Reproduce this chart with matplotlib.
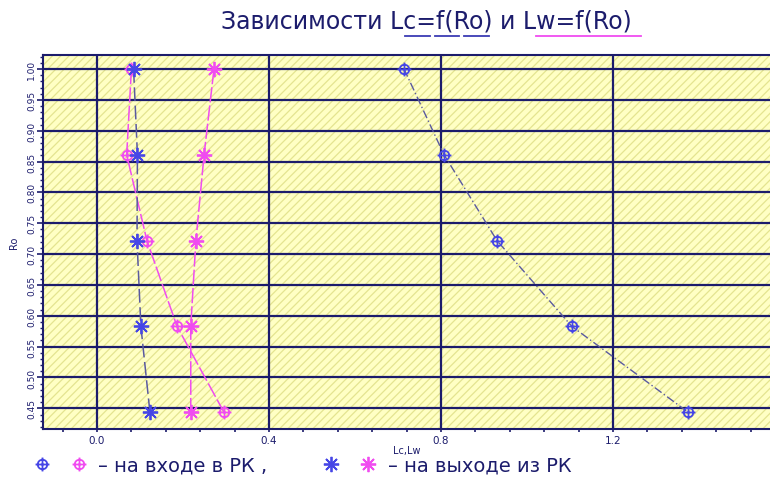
import numpy as np
import matplotlib
matplotlib.use('Agg')
import matplotlib.pyplot as plt
from matplotlib.path import Path
from matplotlib.lines import Line2D
from matplotlib.patches import Rectangle
from matplotlib.legend_handler import HandlerTuple

# data
Ro = [1.0, 0.861, 0.722, 0.583, 0.444]
Lc_in = [0.714, 0.807, 0.930, 1.104, 1.374]     # blue circle-plus
Lw_in = [0.080, 0.069, 0.116, 0.186, 0.295]     # pink circle-plus
Lc_out = [0.085, 0.094, 0.093, 0.102, 0.123]    # blue star
Lw_out = [0.272, 0.249, 0.230, 0.218, 0.218]    # pink star

y_ticks = [0.45, 0.50, 0.55, 0.60, 0.65, 0.70, 0.75, 0.80, 0.85, 0.90, 0.95, 1.00]
x_ticks = [0.0, 0.4, 0.8, 1.2]

title = 'Зависимости Lc=f(Ro) и Lw=f(Ro)'

navy = '#1c1c6c'
blue = '#4646e6'
pink = '#f04cf0'
blue_line = '#5a5aa0'

# circle with a cross sticking out
circ = Path.unit_circle()
cross = Path([[-1.45, 0], [1.45, 0], [0, -1.45], [0, 1.45]],
             [Path.MOVETO, Path.LINETO, Path.MOVETO, Path.LINETO])
oplus = Path.make_compound_path(circ, cross)
star = (8, 2, 0)

plt.rcParams['hatch.linewidth'] = 0.9

fig = plt.figure(figsize=(7.7, 4.81), dpi=100)
ax = fig.add_axes([43/770, 1-430/481, 1-43/770, (430-55.7)/481])

ax.set_facecolor('#ffffc4')
ax.add_patch(Rectangle((0, 0), 1, 1, transform=ax.transAxes, facecolor='none',
                       edgecolor='#e4e490', hatch='////', lw=0, zorder=0))

for y in y_ticks:
    ax.axhline(y, color=navy, lw=1.6, zorder=1)
for x in x_ticks:
    ax.axvline(x, color=navy, lw=1.6, zorder=1)

ax.plot(Lc_in, Ro, color=blue_line, lw=1.0, ls=(0, (6, 2, 1, 2)), zorder=2)
ax.plot(Lw_in, Ro, color=pink, lw=1.1, ls=(0, (10, 2)), zorder=2)
ax.plot(Lc_out, Ro, color=blue_line, lw=1.1, ls=(0, (9, 3)), zorder=2)
ax.plot(Lw_out, Ro, color=pink, lw=1.1, ls=(0, (10, 2)), zorder=2)

ax.plot(Lc_in, Ro, ls='none', marker=oplus, ms=10, mfc='none', mec=blue, mew=1.3, zorder=3)
ax.plot(Lw_in, Ro, ls='none', marker=oplus, ms=10, mfc='none', mec=pink, mew=1.3, zorder=3)
ax.plot(Lc_out, Ro, ls='none', marker=star, ms=11, mec=blue, mew=1.3, zorder=3)
ax.plot(Lw_out, Ro, ls='none', marker=star, ms=11, mec=pink, mew=1.3, zorder=3)

ax.set_xlim(-0.1256, 1.565)
ax.set_ylim(0.4165, 1.0232)

ax.set_yticks(y_ticks)
ax.set_yticklabels(['%.2f' % v for v in y_ticks], rotation=90, va='center',
                   fontsize=6.5, color=navy)
ax.set_yticks(np.arange(0.42, 1.025, 0.01), minor=True)
ax.set_xticks(x_ticks)
ax.set_xticklabels(['%.1f' % v for v in x_ticks], fontsize=7.5, color=navy)
ax.set_xticks(np.arange(-0.08, 1.56, 0.08), minor=True)
ax.tick_params(axis='y', which='major', direction='out', length=4, width=1.2, color=navy, pad=1)
ax.tick_params(axis='y', which='minor', direction='out', length=2.5, width=1.0, color=navy)
ax.tick_params(axis='x', which='both', direction='out', length=2, width=1.2, color=navy, pad=2)

for s in ['left', 'bottom', 'top']:
    ax.spines[s].set_color(navy)
    ax.spines[s].set_linewidth(1.5)
ax.spines['right'].set_visible(False)

ax.set_xlabel('Lc,Lw', fontsize=7, color=navy, labelpad=0)
ax.set_ylabel('Ro', fontsize=7, color=navy, labelpad=6)

tx, ty = 426/770, 1-22/481
fig.text(tx, ty, title, ha='center', va='center', fontsize=17, color=navy)

# underlines under the title, measured from the title text
fig.canvas.draw()
rend = fig.canvas.get_renderer()
def width_px(s):
    t = fig.text(0, 0, s, fontsize=17)
    w = t.get_window_extent(rend).width
    t.remove()
    return w
full = width_px(title)
left = tx*770 - full/2
c0 = left + width_px('Зависимости L')
c1 = left + width_px('Зависимости Lc=f(Ro)')
w0 = left + width_px('Зависимости Lc=f(Ro) и L')
w1 = left + full
uy = 1-37/481
seg = (c1 - c0) / 3
for i in range(3):
    fig.add_artist(Line2D([(c0 + i*seg + 2)/770, (c0 + (i+1)*seg - 3)/770], [uy, uy],
                          color='#3c3cb4', lw=1.3))
fig.add_artist(Line2D([w0/770, (w1 + 10)/770], [uy, uy], color=pink, lw=1.3))

h_in = (Line2D([], [], ls='none', marker=oplus, ms=10, mfc='none', mec=blue, mew=1.3),
        Line2D([], [], ls='none', marker=oplus, ms=10, mfc='none', mec=pink, mew=1.3))
h_out = (Line2D([], [], ls='none', marker=star, ms=11, mec=blue, mew=1.3),
         Line2D([], [], ls='none', marker=star, ms=11, mec=pink, mew=1.3))
fig.legend([h_in, h_out], ['– на входе в РК ,', '– на выходе из РК'],
           handler_map={tuple: HandlerTuple(ndivide=None, pad=1.1)},
           loc='center left', bbox_to_anchor=(34/770, 1-466/481), ncol=2, frameon=False,
           fontsize=14, labelcolor=navy, handlelength=2.7, handletextpad=0.6,
           columnspacing=2.9, borderpad=0, borderaxespad=0)

fig.savefig('out.png', dpi=100)
